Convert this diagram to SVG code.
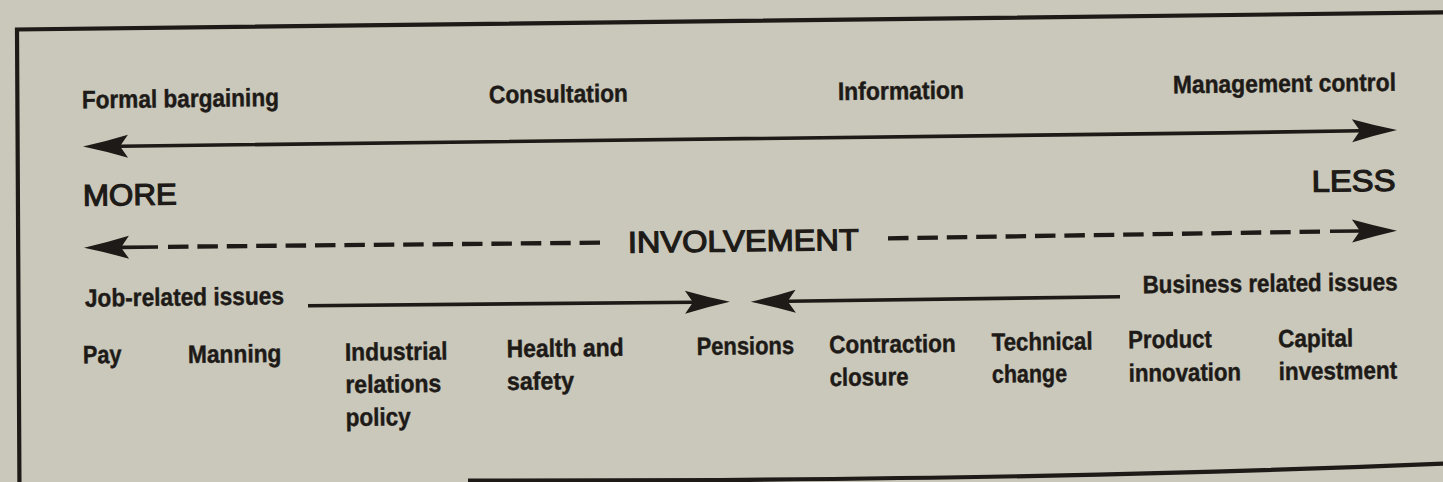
<svg xmlns="http://www.w3.org/2000/svg" width="1443" height="482" viewBox="0 0 1443 482">
  <style>
    .bg { fill: #cac8ba; }
    .frame { fill: none; stroke: #1d1a17; stroke-width: 4.2; stroke-linejoin: miter; }
    .lbl { font-family: 'Liberation Sans', Arial, sans-serif; font-weight: bold; font-size: 25px; fill: #1d1a17; stroke: #1d1a17; stroke-width: 0.45; }
    .big { font-family: 'Liberation Sans', Arial, sans-serif; font-size: 30px; fill: #1d1a17; stroke: #1d1a17; stroke-width: 1.2; }
    .shaft { fill: none; stroke: #1d1a17; stroke-width: 3.6; }
    .dash { fill: none; stroke: #1d1a17; stroke-width: 4.3; stroke-dasharray: 20.5 8.9; }
  </style>
  <defs>
    <!-- barbed arrowhead; reference point is the notch where the shaft joins -->
    <marker id="head" markerUnits="userSpaceOnUse" viewBox="-1 -13 47 26" refX="8" refY="0"
            markerWidth="47" markerHeight="26" orient="auto-start-reverse">
      <path d="M45,0 Q22,-5 0,-11.5 L8,0 L0,11.5 Q22,5 45,0 Z" fill="#1d1a17"/>
    </marker>
  </defs>

  <rect class="bg" x="0" y="0" width="1443" height="482"/>

  <!-- frame: top and left edges, bottom edge only partly on the page -->
  <path class="frame" d="M1447,12.4 L17,29.5 L19.5,492"/>
  <path class="frame" d="M468,480.6 L720,480 C900,478.5 1150,476 1447,463.4"/>

  <g id="connectors">
    <!-- participation scale: formal bargaining <-> management control -->
    <path class="shaft" d="M120,146.2 C420,143.8 900,138.2 1360,130.7" marker-start="url(#head)" marker-end="url(#head)"/>
    <!-- involvement scale, left half -->
    <path class="shaft" d="M158,247 L121,247.4" marker-end="url(#head)"/>
    <path class="dash" d="M168,246.8 L600,242.7"/>
    <!-- involvement scale, right half -->
    <path class="dash" d="M888,238.3 L1320,231.6"/>
    <path class="shaft" d="M1330,231.3 L1360,231" marker-end="url(#head)"/>
    <!-- issues converging on pensions -->
    <path class="shaft" d="M308,305.7 L693,302.2" marker-end="url(#head)"/>
    <path class="shaft" d="M1120,296.7 L787.7,301.3" marker-end="url(#head)"/>
  </g>

  <g id="formal-bargaining" transform="rotate(-0.68 82 108.3)">
    <text class="lbl" x="82" y="108.3" textLength="197" lengthAdjust="spacingAndGlyphs">Formal bargaining</text>
  </g>
  <g id="consultation" transform="rotate(-0.68 489 103.3)">
    <text class="lbl" x="489" y="103.3" textLength="139" lengthAdjust="spacingAndGlyphs">Consultation</text>
  </g>
  <g id="information" transform="rotate(-0.68 838 100)">
    <text class="lbl" x="838" y="100" textLength="126" lengthAdjust="spacingAndGlyphs">Information</text>
  </g>
  <g id="management-control" transform="rotate(-0.68 1173 93.3)">
    <text class="lbl" x="1173" y="93.3" textLength="223" lengthAdjust="spacingAndGlyphs">Management control</text>
  </g>

  <g id="more" transform="rotate(-0.68 83 205.7)">
    <text class="big" x="83" y="205.7" textLength="94" lengthAdjust="spacingAndGlyphs">MORE</text>
  </g>
  <g id="less" transform="rotate(-0.68 1311.7 191.7)">
    <text class="big" x="1311.7" y="191.7" textLength="84" lengthAdjust="spacingAndGlyphs">LESS</text>
  </g>
  <g id="involvement" transform="rotate(-0.68 628 252.7)">
    <text class="big" x="628" y="252.7" font-size="31.5" textLength="231" lengthAdjust="spacingAndGlyphs">INVOLVEMENT</text>
  </g>

  <g id="job-related" transform="rotate(-0.68 85 306.7)">
    <text class="lbl" x="85" y="306.7" textLength="199" lengthAdjust="spacingAndGlyphs">Job-related issues</text>
  </g>
  <g id="business-related" transform="rotate(-0.68 1142.7 293.3)">
    <text class="lbl" x="1142.7" y="293.3" textLength="255" lengthAdjust="spacingAndGlyphs">Business related issues</text>
  </g>

  <g id="pay" transform="rotate(-0.68 83 363.3)">
    <text class="lbl" x="83" y="363.3" textLength="38.5" lengthAdjust="spacingAndGlyphs">Pay</text>
  </g>
  <g id="manning" transform="rotate(-0.68 188 363)">
    <text class="lbl" x="188" y="363" textLength="93.5" lengthAdjust="spacingAndGlyphs">Manning</text>
  </g>
  <g id="industrial-relations" transform="rotate(-0.68 345 360.7)">
    <text class="lbl" x="345" y="360.7" textLength="102.5" lengthAdjust="spacingAndGlyphs">Industrial</text>
    <text class="lbl" x="345" y="393" textLength="96" lengthAdjust="spacingAndGlyphs">relations</text>
    <text class="lbl" x="345" y="426" textLength="65" lengthAdjust="spacingAndGlyphs">policy</text>
  </g>
  <g id="health-safety" transform="rotate(-0.68 506.7 357.3)">
    <text class="lbl" x="506.7" y="357.3" textLength="117" lengthAdjust="spacingAndGlyphs">Health and</text>
    <text class="lbl" x="506.7" y="390" textLength="67" lengthAdjust="spacingAndGlyphs">safety</text>
  </g>
  <g id="pensions" transform="rotate(-0.68 696.7 355)">
    <text class="lbl" x="696.7" y="355" textLength="97.5" lengthAdjust="spacingAndGlyphs">Pensions</text>
  </g>
  <g id="contraction" transform="rotate(-0.68 829.3 353.3)">
    <text class="lbl" x="829.3" y="353.3" textLength="126.5" lengthAdjust="spacingAndGlyphs">Contraction</text>
    <text class="lbl" x="829.3" y="386" textLength="79" lengthAdjust="spacingAndGlyphs">closure</text>
  </g>
  <g id="technical-change" transform="rotate(-0.68 991.7 350.7)">
    <text class="lbl" x="991.7" y="350.7" textLength="101" lengthAdjust="spacingAndGlyphs">Technical</text>
    <text class="lbl" x="991.7" y="382.7" textLength="75" lengthAdjust="spacingAndGlyphs">change</text>
  </g>
  <g id="product-innovation" transform="rotate(-0.68 1128.3 348.3)">
    <text class="lbl" x="1128.3" y="348.3" textLength="83.5" lengthAdjust="spacingAndGlyphs">Product</text>
    <text class="lbl" x="1128.3" y="381.7" textLength="112.5" lengthAdjust="spacingAndGlyphs">innovation</text>
  </g>
  <g id="capital-investment" transform="rotate(-0.68 1278.3 347.3)">
    <text class="lbl" x="1278.3" y="347.3" textLength="75" lengthAdjust="spacingAndGlyphs">Capital</text>
    <text class="lbl" x="1278.3" y="380" textLength="118.5" lengthAdjust="spacingAndGlyphs">investment</text>
  </g>
</svg>
